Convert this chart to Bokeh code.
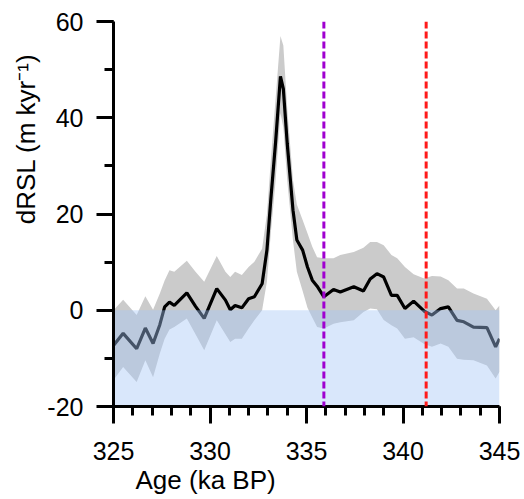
from bokeh.plotting import figure
from bokeh.models import (Range1d, SingleIntervalTicker, Span, ColumnDataSource,
                          Title, PrintfTickFormatter)
from bokeh.embed import file_html
from bokeh.resources import INLINE

# Data
age = [325.0, 325.5, 326.2, 326.65, 327.05, 327.4, 327.65, 327.9, 328.15, 328.8,
       329.25, 329.7, 330.35, 330.8, 331.05, 331.3, 331.65, 332.0, 332.3, 332.7,
       332.95, 333.15, 333.4, 333.65, 333.8, 334.0, 334.3, 334.5, 334.8, 335.05,
       335.3, 335.55, 335.9, 336.4, 336.75, 337.45, 337.95, 338.3, 338.65, 339.0,
       339.4, 339.7, 340.1, 340.55, 341.1, 341.5, 341.95, 342.35, 342.8, 343.15,
       343.65, 344.35, 344.8, 345.0]
drsl = [-7.3, -4.8, -8.0, -3.7, -6.9, -3.0, 0.7, 1.7, 1.0, 3.6,
        0.8, -1.7, 4.5, 2.1, 0.1, 1.0, 0.5, 2.4, 2.8, 5.5,
        12.5, 23.0, 35.0, 48.6, 46.0, 34.7, 20.8, 14.6, 12.5, 9.0,
        6.25, 5.0, 2.8, 4.3, 3.8, 4.9, 4.0, 6.5, 7.6, 6.9,
        3.1, 3.1, 0.35, 1.9, -0.2, -1.0, 0.35, 0.7, -2.1, -2.4,
        -3.5, -3.6, -7.6, -5.9]
upper = [0.0, 2.2, -1.0, 2.9, 0.1, 3.5, 6.2, 8.3, 8.0, 10.3,
         8.0, 5.9, 11.25, 8.0, 6.9, 8.0, 7.3, 9.0, 10.1, 12.8,
         20.0, 31.0, 44.0, 57.0, 55.0, 42.0, 27.0, 22.0, 18.75, 16.0,
         13.2, 11.0, 10.8, 10.8, 11.5, 12.1, 13.0, 14.2, 14.2, 13.5,
         11.5, 10.8, 9.0, 7.5, 6.6, 7.1, 7.0, 6.25, 4.5, 4.5,
         3.5, 2.4, 0.0, 1.0]
lower = [-14.5, -11.8, -14.9, -10.4, -13.9, -9.0, -5.9, -4.0, -3.5, -1.7,
         -5.0, -8.3, -2.1, -5.0, -6.6, -5.9, -5.9, -3.8, -2.1, 0.0,
         6.0, 16.0, 27.0, 41.0, 38.0, 27.0, 14.5, 8.0, 4.0, 0.5,
         -1.5, -3.5, -3.8, -2.8, -2.5, -2.1, -0.35, 0.35, 0.2, -2.0,
         -3.1, -3.8, -5.9, -5.6, -7.0, -7.6, -6.9, -7.6, -10.1, -10.3,
         -10.4, -11.5, -14.2, -12.8]
event_ages = [335.9, 341.2]
event_colors = ["#a000d0", "#ff1a1a"]
zone_left, zone_right, zone_bottom, zone_top = 325, 345, -20, 0
x_title = "Age (ka BP)"
y_title = "dRSL (m kyr\u207b\u00b9)"

src = ColumnDataSource(dict(age=age, drsl=drsl, upper=upper, lower=lower))

p = figure(width=524, height=499, output_backend="svg", toolbar_location=None,
           x_range=Range1d(325, 345), y_range=Range1d(-20, 60),
           min_border_left=113, min_border_right=25, min_border_top=21,
           min_border_bottom=93)
p.outline_line_color = None
p.xgrid.visible = False
p.ygrid.visible = False

p.varea(x="age", y1="lower", y2="upper", source=src, fill_color="#cbcbcb", fill_alpha=1.0)
p.line(x="age", y="drsl", source=src, line_color="black", line_width=3.2)
p.quad(left=[zone_left], right=[zone_right], bottom=[zone_bottom], top=[zone_top],
       fill_color="#a4c6f5", fill_alpha=0.42, line_color=None)

for a, c in zip(event_ages, event_colors):
    p.add_layout(Span(location=a, dimension="height", line_color=c,
                      line_width=3, line_dash="7 3"))

p.xaxis.ticker = SingleIntervalTicker(interval=5, num_minor_ticks=5)
p.yaxis.ticker = SingleIntervalTicker(interval=20, num_minor_ticks=2)
p.xaxis.formatter = PrintfTickFormatter(format="%d")
p.yaxis.formatter = PrintfTickFormatter(format="%d")

for ax in (p.xaxis[0], p.yaxis[0]):
    ax.axis_line_width = 3
    ax.axis_line_color = "black"
    ax.major_tick_line_width = 3
    ax.minor_tick_line_width = 3
    ax.major_tick_out = 17
    ax.major_tick_in = 0
    ax.minor_tick_out = 9
    ax.minor_tick_in = 0
    ax.major_label_text_font = "Liberation Sans"
    ax.major_label_text_font_size = "25px"
    ax.major_label_text_color = "black"
p.xaxis.major_label_standoff = 18
p.yaxis.major_label_standoff = 13

p.add_layout(Title(text=x_title, align="left", offset=22, standoff=0,
                   text_font="Liberation Sans", text_font_size="26px",
                   text_font_style="normal", text_color="black"), "below")
p.add_layout(Title(text=y_title, align="right", offset=32, standoff=8,
                   text_font="Liberation Sans", text_font_size="26px",
                   text_font_style="normal", text_color="black"), "left")

open("out.html", "w").write(file_html(p, INLINE))
